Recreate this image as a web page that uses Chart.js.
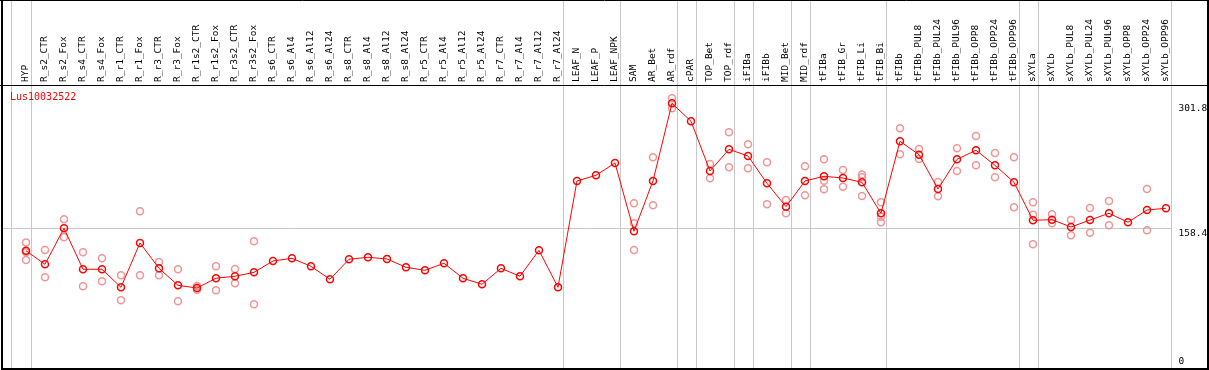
<!DOCTYPE html>
<html>
<head>
<meta charset="utf-8">
<script src="https://cdn.jsdelivr.net/npm/chart.js@4.4.1/dist/chart.umd.min.js"></script>
<style>
    html, body { margin: 0; padding: 0; background: #fff; }
    #wrap { width: 1209px; height: 370px; }
</style>
</head>
<body>
<div id="wrap"><canvas id="geneChart" width="1209" height="370"></canvas></div>
<script>
// --- data ---
const geneName = 'Lus10032522';

const categories = [
    'HYP', 'R_s2_CTR', 'R_s2_Fox', 'R_s4_CTR', 'R_s4_Fox', 'R_r1_CTR', 'R_r1_Fox', 'R_r3_CTR', 'R_r3_Fox',
    'R_r1s2_CTR', 'R_r1s2_Fox', 'R_r3s2_CTR', 'R_r3s2_Fox',
    'R_s6_CTR', 'R_s6_Al4', 'R_s6_Al12', 'R_s6_Al24', 'R_s8_CTR', 'R_s8_Al4', 'R_s8_Al12', 'R_s8_Al24',
    'R_r5_CTR', 'R_r5_Al4', 'R_r5_Al12', 'R_r5_Al24', 'R_r7_CTR', 'R_r7_Al4', 'R_r7_Al12', 'R_r7_Al24',
    'LEAF_N', 'LEAF_P', 'LEAF_NPK', 'SAM', 'AR_Bet', 'AR_rdf', 'cPAR', 'TOP_Bet', 'TOP_rdf',
    'iFIBa', 'iFIBb', 'MID_Bet', 'MID_rdf', 'tFIBa', 'tFIB_Gr', 'tFIB_Li', 'tFIB_Bi',
    'tFIBb', 'tFIBb_PUL8', 'tFIBb_PUL24', 'tFIBb_PUL96', 'tFIBb_OPP8', 'tFIBb_OPP24', 'tFIBb_OPP96',
    'sXYLa', 'sXYLb', 'sXYLb_PUL8', 'sXYLb_PUL24', 'sXYLb_PUL96', 'sXYLb_OPP8', 'sXYLb_OPP24', 'sXYLb_OPP96'
];

// mean expression per sample
const meanValues = [
    132.7, 117.1, 158.4, 111.4, 111.4, 90.7, 141.6, 112.5, 93.0,
    89.9, 101.1, 103.4, 107.9,
    120.9, 124.0, 114.8, 99.9, 122.9, 125.2, 123.2, 113.7,
    110.2, 118.3, 101.1, 94.2, 112.5, 103.4, 133.2, 90.7,
    212.7, 219.2, 233.3, 155.0, 212.7, 301.8, 281.2, 224.2, 249.0,
    241.4, 210.0, 183.2, 212.7, 218.1, 216.1, 211.2, 175.6,
    258.2, 242.9, 203.5, 237.6, 247.9, 230.7, 211.2,
    167.6, 168.3, 159.9, 167.9, 175.6, 165.3, 179.4, 181.4
];

// individual replicates (null where no replicate is shown)
const rep1 = [
    142.0, 133.5, 168.7, 130.9, 124.0, 104.5, 177.9, 119.8, 111.4,
    92.2, 114.8, 111.7, 143.5,
    null, null, null, null, null, null, null, null,
    null, null, null, null, null, null, null, null,
    null, null, null, 187.1, 239.9, 307.6, null, 232.2, 268.6,
    254.8, 234.1, 190.9, 229.6, 237.6, 225.3, 220.0, 188.3,
    273.1, 249.4, 211.5, 250.2, 264.3, 244.8, 239.9,
    188.3, 174.5, 167.9, 181.7, 189.7, null, 203.5, null
];
const rep2 = [
    122.0, 102.2, 148.1, 91.9, 97.6, 75.8, 104.5, 104.5, 74.7,
    88.0, 87.3, 95.3, 71.2,
    null, null, null, null, null, null, null, null,
    null, null, null, null, null, null, null, null,
    null, null, null, 133.5, 184.8, 296.1, null, 215.8, 228.4,
    227.3, 185.9, 175.6, 196.3, 203.2, 206.2, 195.5, 165.3,
    243.3, 237.9, 195.1, 224.2, 230.7, 216.9, 182.5,
    140.1, 164.2, 150.4, 153.4, 161.8, null, 156.1, null
];
const rep3 = [
    131.0, null, null, null, null, null, null, null, null,
    null, null, null, null,
    null, null, null, null, null, null, null, null,
    null, null, null, null, null, null, null, null,
    null, null, null, 164.2, null, null, null, null, null,
    null, null, null, null, 213.0, null, 217.0, 171.8,
    null, null, null, null, null, null, null,
    174.0, null, null, null, null, null, null, null
];

// last sample of each group, a separator line follows it
const groupEnds = [-1, 0, 28, 31, 34, 35, 37, 38, 40, 41, 45, 52, 53, 60];
const yTicks = [0, 158.4, 301.8];
const yMin = -3;
const yMax = 322.8;

// --- helpers ---
const toPoints = (arr) => arr.map((y, i) => ({ x: i, y }));
const GRID = '#c8c8c8';
const MONO = '"DejaVu Sans Mono", "Liberation Mono", monospace';

const frameAndTitle = {
    id: 'frameAndTitle',
    beforeDatasetsDraw(chart) {
        const { ctx, scales: { x } } = chart;
        ctx.save();
        ctx.strokeStyle = GRID;
        ctx.lineWidth = 1;
        groupEnds.forEach(g => {
            const px = Math.round(x.getPixelForValue(g + 0.237)) + 0.5;
            ctx.beginPath();
            ctx.moveTo(px, 0);
            ctx.lineTo(px, chart.height);
            ctx.stroke();
        });
        ctx.restore();
    },
    afterDraw(chart) {
        const { ctx, chartArea } = chart;
        const w = chart.width, h = chart.height;
        ctx.save();
        ctx.strokeStyle = '#000';
        ctx.lineWidth = 2;
        ctx.beginPath();
        ctx.moveTo(2, 0); ctx.lineTo(2, h - 1);
        ctx.lineTo(w - 1, h - 1); ctx.lineTo(w - 1, 0);
        ctx.stroke();
        ctx.lineWidth = 1;
        ctx.beginPath();
        ctx.moveTo(0, 0.5); ctx.lineTo(w, 0.5);
        ctx.moveTo(0, chartArea.top + 0.5); ctx.lineTo(w, chartArea.top + 0.5);
        ctx.stroke();

        // gene id in the corner
        ctx.fillStyle = '#ff0000';
        ctx.font = '10px ' + MONO;
        ctx.textBaseline = 'middle';
        ctx.textAlign = 'left';
        ctx.fillText(geneName, 10, 97);
        ctx.restore();
    }
};

new Chart(document.getElementById('geneChart'), {
    type: 'line',
    data: {
        datasets: [
            {
                label: 'mean',
                data: toPoints(meanValues),
                borderColor: '#ff0000',
                borderWidth: 1,
                pointStyle: 'circle',
                pointRadius: 3.5,
                pointBorderWidth: 1.5,
                pointBorderColor: '#ff0000',
                pointBackgroundColor: 'rgba(0,0,0,0)',
                order: 0
            },
            ...[rep1, rep2, rep3].map((rep, k) => ({
                label: 'rep' + (k + 1),
                data: toPoints(rep),
                showLine: false,
                pointRadius: 3.5,
                pointBorderWidth: 1.5,
                pointBorderColor: '#f09494',
                pointBackgroundColor: 'rgba(0,0,0,0)',
                order: 1
            }))
        ]
    },
    options: {
        responsive: false,
        animation: false,
        spanGaps: false,
        layout: { autoPadding: false, padding: { left: 2, right: 1, top: 0, bottom: 1 } },
        plugins: {
            legend: { display: false },
            tooltip: { enabled: false }
        },
        scales: {
            x: {
                type: 'linear',
                position: 'top',
                min: -1.263,
                max: 60.237,
                afterFit: (scale) => {
                    scale.height = 85;
                    scale.paddingLeft = 0;
                    scale.paddingRight = 0;
                },
                afterBuildTicks: (scale) => { scale.ticks = categories.map((_, i) => ({ value: i })); },
                grid: { display: false, drawTicks: false },
                border: { display: false },
                ticks: {
                    autoSkip: false,
                    minRotation: 90,
                    maxRotation: 90,
                    padding: 3,
                    labelOffset: 11,
                    color: '#000',
                    font: { family: MONO, size: 9.5 },
                    callback: (v) => categories[v]
                }
            },
            y: {
                type: 'linear',
                position: 'right',
                min: yMin,
                max: yMax,
                afterFit: (scale) => {
                    scale.width = 37.5;
                    scale.paddingTop = 0;
                    scale.paddingBottom = 0;
                },
                afterBuildTicks: (scale) => { scale.ticks = yTicks.map(v => ({ value: v })); },
                grid: {
                    drawTicks: false,
                    color: (c) => (c.tick && c.tick.value === 158.4 ? GRID : 'rgba(0,0,0,0)')
                },
                border: { display: false },
                ticks: {
                    padding: 8,
                    color: '#000',
                    font: { family: MONO, size: 9.5, lineHeight: 1.1 },
                    callback: (v) => (v === 0 ? ['0', ''] : ['', String(v)])
                }
            }
        }
    },
    plugins: [frameAndTitle]
});
</script>
</body>
</html>
